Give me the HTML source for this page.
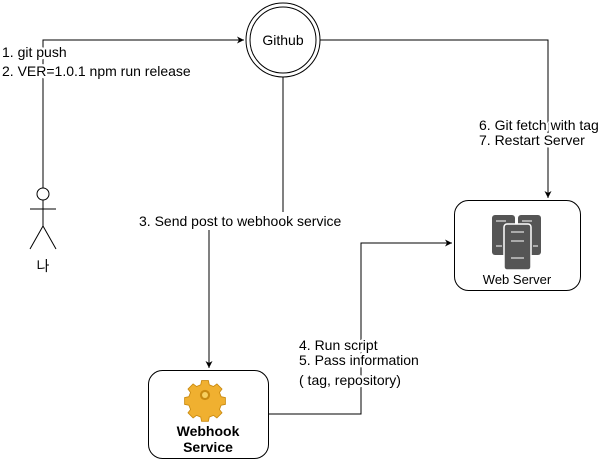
<!DOCTYPE html>
<html><head><style>
body{margin:0;background:#fff;width:599px;height:461px;overflow:hidden;font-family:"Liberation Sans","Noto Sans CJK KR",sans-serif}
</style></head><body>
<svg width="599" height="461" xmlns="http://www.w3.org/2000/svg" font-family="Liberation Sans, Noto Sans CJK KR, sans-serif" font-size="14">
<defs><marker id="a" markerWidth="8" markerHeight="8" refX="7" refY="4" orient="auto" markerUnits="userSpaceOnUse"><path d="M0,0.5 L7,4 L0,7.5 L2,4z" fill="#000"/></marker></defs>
<g fill="none" stroke="#000" stroke-width="1">
<circle cx="283" cy="40" r="37"/><circle cx="283" cy="40" r="33"/>
<rect x="454.5" y="200.5" width="126" height="90" rx="14"/>
<rect x="148.5" y="370.5" width="120" height="88" rx="14"/>
<circle cx="43" cy="194" r="6"/>
<path d="M43 200V226M30 209H56M43 226L30 249M43 226L56 249"/>
<path d="M43 188V40H244" marker-end="url(#a)"/>
<path d="M320 40H548V198" marker-end="url(#a)"/>
<path d="M283 77V212M209 230V368" marker-end="url(#a)"/>
<path d="M268 414H361V243H452" marker-end="url(#a)"/>
</g>
<g fill="#000" stroke="#fff" stroke-width="5" paint-order="stroke" stroke-linejoin="round">
<text x="283" y="45" text-anchor="middle" stroke="none">Github</text>
<text x="2" y="57">1. git push</text>
<text x="2" y="76">2. VER=1.0.1 npm run release</text>
<text x="479" y="130">6. Git fetch with tag</text>
<text x="479" y="145">7. Restart Server</text>
<text x="139" y="226">3. Send post to webhook service</text>
<text x="299" y="350">4. Run script</text>
<text x="299" y="365">5. Pass information</text>
<text x="299" y="385">( tag, repository)</text>
<text x="43" y="271" text-anchor="middle" stroke="none">나</text>
<text x="517" y="284" text-anchor="middle" font-size="13" stroke="none">Web Server</text>
<text x="208" y="436" text-anchor="middle" font-weight="bold" font-size="14" stroke="none">Webhook</text>
<text x="208" y="452" text-anchor="middle" font-weight="bold" font-size="14" stroke="none">Service</text>
</g>
<g fill="#555">
<rect x="492" y="215" width="23" height="40" rx="3"/>
<rect x="518" y="215" width="23" height="40" rx="3"/>
<rect x="504" y="224" width="27" height="46" rx="3" stroke="#fff" stroke-width="1.5"/>
</g>
<g stroke="#ddd" stroke-width="1.2">
<path d="M496 221h10M522 221h10M496 246h6M533 246h5M511 232h13M511 241h13M511 258h13"/>
</g>
<g transform="translate(205,395) scale(0.85)">
<path d="M-4,-17h8l1,5 5,2 4,-3 6,6 -3,4 2,5 5,1v8l-5,1 -2,5 3,4 -6,6 -4,-3 -5,2 -1,5h-8l-1,-5 -5,-2 -4,3 -6,-6 3,-4 -2,-5 -5,-1v-8l5,-1 2,-5 -3,-4 6,-6 4,3 5,-2z" fill="#f0b030" stroke="#c98a10"/>
<circle r="6" fill="#c98a10"/><circle r="3.5" fill="#f7d060"/>
</g>
</svg>
</body></html>
